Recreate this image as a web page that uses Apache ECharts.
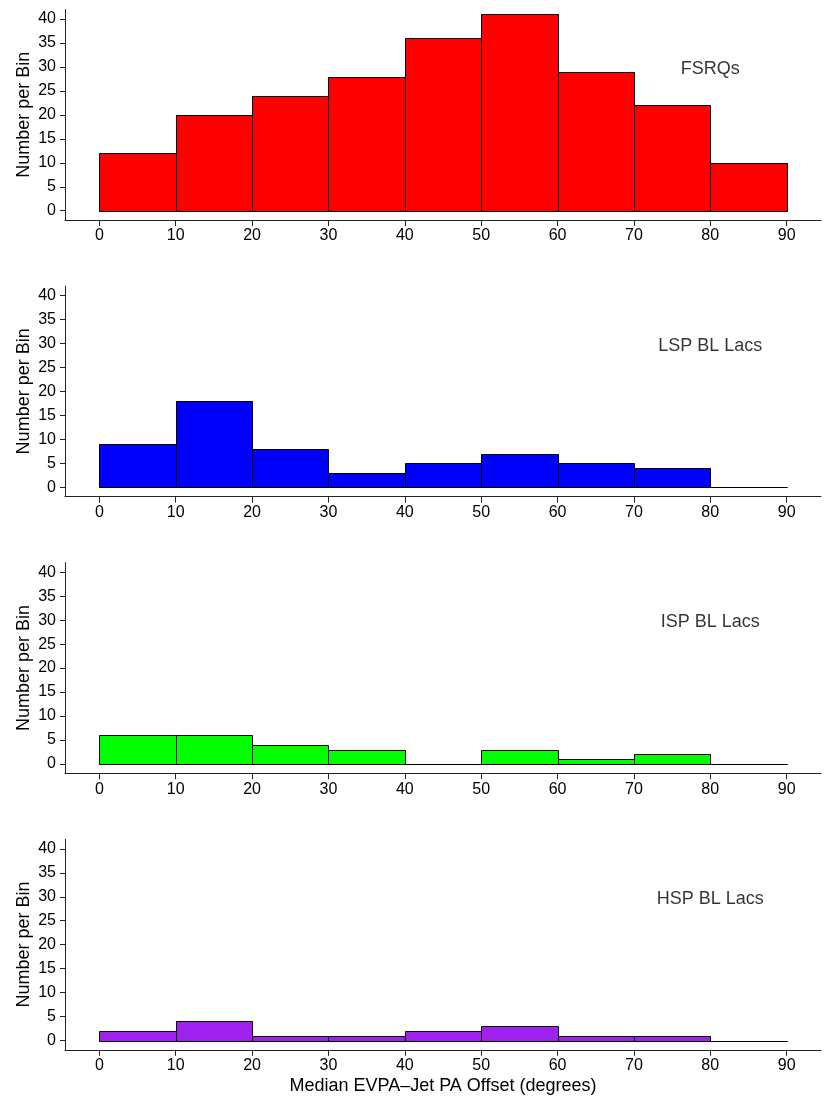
<!DOCTYPE html>
<html>
<head>
<meta charset="utf-8">
<script src="https://cdn.jsdelivr.net/npm/echarts@6/dist/echarts.min.js"></script>
<style>
html,body{margin:0;padding:0;background:#fff;}
#chart{width:830px;height:1107px;}
</style>
</head>
<body>
<div id="chart"></div>
<script>
// ---- data ----
const binEdges = [0, 10, 20, 30, 40, 50, 60, 70, 80, 90];
const panelNames = ['FSRQs', 'LSP BL Lacs', 'ISP BL Lacs', 'HSP BL Lacs'];
const fsrqCounts = [12, 20, 24, 28, 36, 41, 29, 22, 10];
const lspCounts  = [9, 18, 8, 3, 5, 7, 5, 4, 0];
const ispCounts  = [6, 6, 4, 3, 0, 3, 1, 2, 0];
const hspCounts  = [2, 4, 1, 1, 2, 3, 1, 1, 0];
const xTicks = [0, 10, 20, 30, 40, 50, 60, 70, 80, 90];
const yTicks = [0, 5, 10, 15, 20, 25, 30, 35, 40];
const xTitle = 'Median EVPA\u2013Jet PA Offset (degrees)';
const yTitle = 'Number per Bin';

const allCounts = [fsrqCounts, lspCounts, ispCounts, hspCounts];
const colors = ['#FF0000', '#0000FF', '#00FF00', '#A020F0'];
const FONT = '"Liberation Sans", Arial, Helvetica, sans-serif';

const chart = echarts.init(document.getElementById('chart'), null, {renderer: 'canvas'});

const grids = [], xAxes = [], yAxes = [], series = [];
const panelStep = 276.6;
for (let i = 0; i < 4; i++) {
  const top = 9.5 + panelStep * i;
  grids.push({left: 65, width: 756, top: top, height: 210.5, containLabel: false});
  xAxes.push({
    type: 'value', gridIndex: i, min: -4.5, max: 94.5,
    axisLine: {show: true, onZero: false, lineStyle: {color: '#222', width: 1}},
    axisTick: {show: true, length: 6, customValues: xTicks, lineStyle: {color: '#222', width: 1}},
    axisLabel: {show: true, customValues: xTicks, margin: 8, color: '#000', fontSize: 16, fontFamily: FONT},
    splitLine: {show: false},
    name: i === 3 ? xTitle : '', nameLocation: 'middle', nameGap: 27, nameMoveOverlap: false,
    nameTextStyle: {color: '#000', fontSize: 18, fontFamily: FONT}
  });
  yAxes.push({
    type: 'value', gridIndex: i, min: -1.94, max: 42,
    axisLine: {show: true, onZero: false, lineStyle: {color: '#222', width: 1}},
    axisTick: {show: true, length: 5, customValues: yTicks, lineStyle: {color: '#222', width: 1}},
    axisLabel: {show: true, customValues: yTicks, margin: 9, color: '#000', fontSize: 16, fontFamily: FONT},
    splitLine: {show: false},
    name: yTitle, nameLocation: 'middle', nameGap: 32, nameRotate: 90, nameMoveOverlap: false,
    nameTextStyle: {color: '#000', fontSize: 18, fontFamily: FONT}
  });
  const counts = allCounts[i];
  const data = counts.map((c, k) => [binEdges[k], binEdges[k + 1], c]);
  const color = colors[i];
  series.push({
    type: 'custom', xAxisIndex: i, yAxisIndex: i, clip: false,
    data: data,
    encode: {x: [0, 1], y: 2},
    renderItem: function (params, api) {
      const p0 = api.coord([api.value(0), 0]);
      const p1 = api.coord([api.value(1), api.value(2)]);
      const x0 = Math.round(p0[0]) + 0.5, x1 = Math.round(p1[0]) + 0.5;
      const y0 = Math.round(p0[1]) + 0.5, y1 = Math.round(p1[1]) + 0.5;
      return {
        type: 'rect',
        shape: {x: x0, y: y1, width: x1 - x0, height: y0 - y1},
        style: {fill: color, stroke: '#000', lineWidth: 1}
      };
    }
  });
  // panel label, placed at data coordinate (80, 30)
  series.push({
    type: 'scatter', xAxisIndex: i, yAxisIndex: i, symbolSize: 0,
    data: [[80, 30]],
    label: {show: true, position: 'inside', offset: [0, 2], formatter: panelNames[i], color: '#000', fontSize: 18, fontFamily: FONT},
    silent: true
  });
}

chart.setOption({
  animation: false,
  backgroundColor: '#fff',
  grid: grids,
  xAxis: xAxes,
  yAxis: yAxes,
  series: series
});
</script>
</body>
</html>
